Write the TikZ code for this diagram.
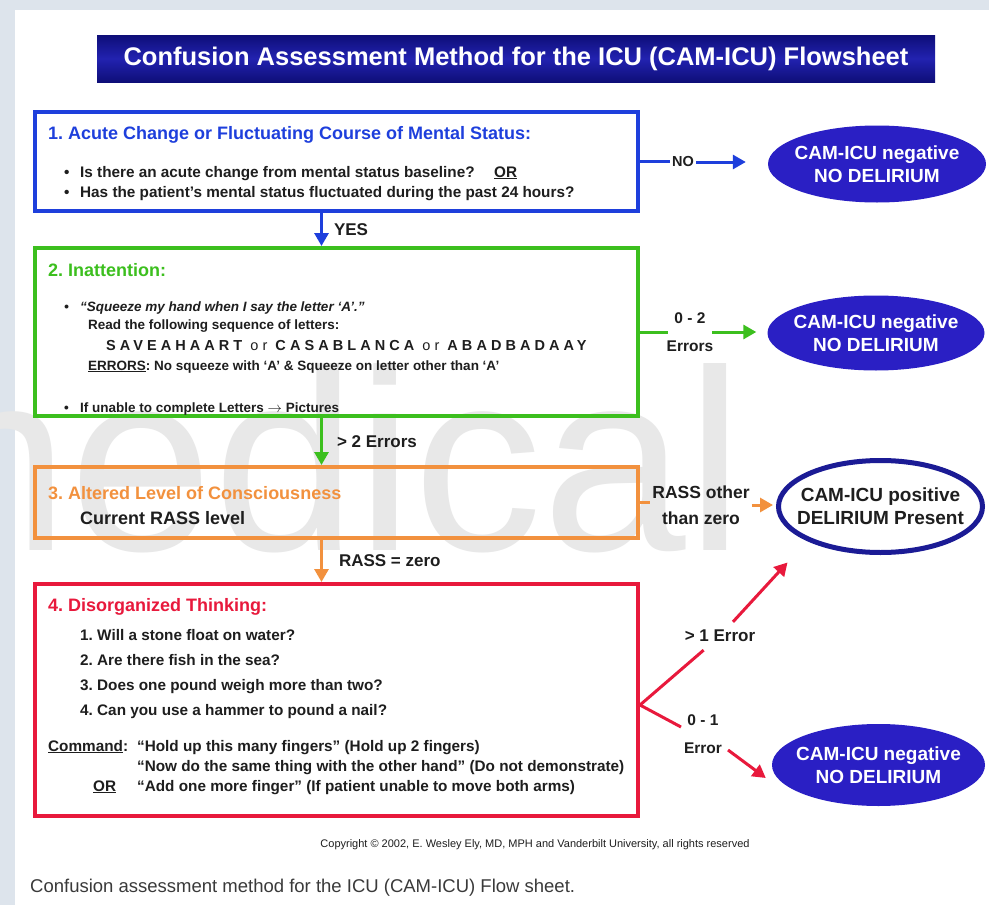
\documentclass[tikz,border=0pt]{standalone}
\usepackage{fontspec}
\setmainfont{Liberation Sans}
\usetikzlibrary{positioning,arrows.meta,shapes.geometric}
\frenchspacing

\definecolor{stripgray}{HTML}{DDE4EC}
\definecolor{barblue}{HTML}{2222B0}
\definecolor{bardark}{HTML}{0E0E78}
\definecolor{boxblue}{HTML}{1E3FDC}
\definecolor{boxgreen}{HTML}{3CBF1E}
\definecolor{boxorange}{HTML}{F2913E}
\definecolor{boxred}{HTML}{E8193C}
\definecolor{ovalblue}{HTML}{2A1FC4}
\definecolor{ovalrim}{HTML}{1B1B95}
\definecolor{wmgray}{HTML}{E8E8E8}
\definecolor{captiongray}{HTML}{3A3A3A}
\definecolor{inkblack}{HTML}{1E1E1E}

\newcommand{\bulletmark}{\makebox[16pt][l]{\textbullet}}

\begin{document}
\begin{tikzpicture}[x=1pt, y=-1pt,
	fbox/.style={draw, line width=4pt, minimum width=603pt, inner sep=0pt},
	hd/.style={anchor=base west, inner sep=0pt, font=\fontsize{18}{20}\selectfont\bfseries},
	txt/.style={anchor=base west, inner sep=0pt, text=inkblack, font=\fontsize{15.3}{18}\selectfont\bfseries},
	small/.style={txt, font=\fontsize{13.5}{15}\selectfont\bfseries},
	lbl/.style={inner sep=2pt, text=inkblack, align=center, font=\fontsize{17}{19}\selectfont\bfseries},
	oval/.style={ellipse, inner sep=0pt},
	ovaltext/.style={inner sep=0pt, align=center, font=\fontsize{19}{23}\selectfont\bfseries},
	link/.style={line width=3pt},
	arr/.style={link, -{Triangle[length=13pt, width=14pt]}}]
	\useasboundingbox (0,0) rectangle (989,905);
	\fill[white] (0,0) rectangle (989,905);
	\fill[stripgray] (0,0) rectangle (989,10);
	\fill[stripgray] (0,0) rectangle (15,905);
	\begin{scope}
		\clip (0,0) rectangle (989,905);
		\node[anchor=base east, inner sep=0pt, text=wmgray, font=\fontsize{258}{258}\selectfont] (wm) at (744,550) {medical};
	\end{scope}

	% title bar
	\node[minimum width=838pt, minimum height=47pt, top color=bardark, bottom color=bardark, middle color=barblue,
		text=white, font=\fontsize{25.5}{28}\selectfont\bfseries] (title) at (516,58.5) {Confusion Assessment Method for the ICU (CAM-ICU) Flowsheet};

	% the four boxes
	\node[fbox, draw=boxblue, minimum height=99pt] (box1) at (336.5,161.5) {};
	\node[fbox, draw=boxgreen, minimum height=168pt] (box2) at (336.5,332) {};
	\node[fbox, draw=boxorange, minimum height=71pt] (box3) at (336.5,502.5) {};
	\node[fbox, draw=boxred, minimum height=232pt] (box4) at (336.5,700) {};

	\node[hd, text=boxblue] (t1) at (48,139) {1. Acute Change or Fluctuating Course of Mental Status:};
	\node[txt] (q1a) at (64,177) {\bulletmark Is there an acute change from mental status baseline?\quad\ \underline{OR}};
	\node[txt] (q1b) at (64,197) {\bulletmark Has the patient's mental status fluctuated during the past 24 hours?};

	\node[hd, text=boxgreen] (t2) at (48,276) {2. Inattention:};
	\node[small, font=\fontsize{13.5}{15}\selectfont\bfseries\itshape] (s2a) at (64,311) {\bulletmark``Squeeze my hand when I say the letter ‘A’.''};
	\node[small] (s2b) at (88,329) {Read the following sequence of letters:};
	\node[small, font=\fontsize{14.5}{16}\selectfont\bfseries\addfontfeature{LetterSpace=28}] (s2c) at (106,350) {SAVEAHAART {\mdseries or} CASABLANCA {\mdseries or} ABADBADAAY};
	\node[small] (s2d) at (88,370) {\underline{ERRORS}: No squeeze with ‘A’ \& Squeeze on letter other than ‘A’};
	\node[small] (s2e) at (64,412) {\bulletmark If unable to complete Letters $\rightarrow$ Pictures};

	\node[hd, text=boxorange] (t3) at (48,499) {3. Altered Level of Consciousness};
	\node[txt, font=\fontsize{18}{20}\selectfont\bfseries] (t3b) at (80,524) {Current RASS level};

	\node[hd, text=boxred] (t4) at (48,611) {4. Disorganized Thinking:};
	\node[txt] (d1) at (80,640) {1. Will a stone float on water?};
	\node[txt] (d2) at (80,665) {2. Are there fish in the sea?};
	\node[txt] (d3) at (80,690) {3. Does one pound weigh more than two?};
	\node[txt] (d4) at (80,715) {4. Can you use a hammer to pound a nail?};
	\node[txt] (cmd) at (48,751) {\underline{Command}:};
	\node[txt] (cmd1) at (137,751) {``Hold up this many fingers'' (Hold up 2 fingers)};
	\node[txt] (cmd2) at (137,771) {``Now do the same thing with the other hand'' (Do not demonstrate)};
	\node[txt] (cmdor) at (93,791) {\underline{OR}};
	\node[txt] (cmd3) at (137,791) {``Add one more finger'' (If patient unable to move both arms)};

	% outcome ovals
	\node[oval, fill=ovalblue, minimum width=218pt, minimum height=77pt] (neg1) at (877,164) {};
	\node[ovaltext, text=white] (neg1txt) at (neg1) {CAM-ICU negative\\NO DELIRIUM};
	\node[oval, fill=ovalblue, minimum width=217pt, minimum height=75pt] (neg2) at (876,333) {};
	\node[ovaltext, text=white] (neg2txt) at (neg2) {CAM-ICU negative\\NO DELIRIUM};
	\node[oval, draw=ovalrim, line width=5pt, fill=white, minimum width=204pt, minimum height=92pt] (pos) at (880.5,506.5) {};
	\node[ovaltext, text=inkblack] (postxt) at (pos) {CAM-ICU positive\\DELIRIUM Present};
	\node[oval, fill=ovalblue, minimum width=213pt, minimum height=82pt] (neg4) at (878.5,765) {};
	\node[ovaltext, text=white] (neg4txt) at (neg4) {CAM-ICU negative\\NO DELIRIUM};

	% downward arrows
	\draw[arr, boxblue] ([xshift=-15pt]box1.south) -- ([xshift=-15pt]box2.north) node[lbl, midway, right=9pt] (yes) {YES};
	\draw[arr, boxgreen] ([xshift=-15pt]box2.south) -- ([xshift=-15pt]box3.north) node[lbl, midway, right=12pt] (gt2) {> 2 Errors};
	\draw[arr, boxorange] ([xshift=-15pt]box3.south) -- ([xshift=-15pt]box4.north) node[lbl, midway, right=14pt] (rz) {RASS = zero};

	% sideways arrows
	\node[lbl, font=\fontsize{14.5}{16}\selectfont\bfseries] (no) at (683,162) {NO};
	\draw[link, boxblue] (box1.east) -- (box1.east -| no.west);
	\draw[arr, boxblue] (no.east) -- ([xshift=-22pt]no.east -| neg1.west);

	\node[lbl, font=\fontsize{15.5}{28}\selectfont\bfseries] (err02) at (690,332) {0 - 2\\Errors};
	\draw[link, boxgreen] (box2.east) -- ([xshift=-22pt]box2.east -| err02.center);
	\draw[arr, boxgreen] ([xshift=22pt]err02.center) -- ([xshift=-11pt]err02.center -| neg2.west);

	\node[lbl, font=\fontsize{17.5}{26}\selectfont\bfseries] (rass) at (701,505) {RASS other\\than zero};
	\draw[link, boxorange] (box3.east) -- (box3.east -| rass.west);
	\draw[arr, boxorange, shorten >=3pt] (rass.east) -- (rass.east -| pos.west);

	\coordinate (fork) at ([yshift=-5pt]box4.east);
	\node[lbl, inner sep=8pt] (gt1) at (720,636) {> 1 Error};
	\draw[link, boxred] (fork) -- (gt1);
	\draw[arr, boxred] (gt1) -- ([xshift=-93pt, yshift=-56pt]pos.center);
	\node[lbl, font=\fontsize{15.5}{28}\selectfont\bfseries] (err01) at (703,734) {0 - 1\\Error};
	\draw[link, boxred] (fork) -- ([xshift=-22pt, yshift=7pt]err01.center);
	\draw[arr, boxred] ([xshift=25pt, yshift=-16pt]err01.center) -- ([xshift=-6pt, yshift=-13pt]neg4.west);

	% footer
	\node[inner sep=0pt, text=inkblack, font=\fontsize{11}{13}\selectfont] (copy) at (535,845) {Copyright © 2002, E. Wesley Ely, MD, MPH and Vanderbilt University, all rights reserved};
	\node[anchor=west, inner sep=0pt, text=captiongray, font=\fontsize{18.5}{21}\selectfont] (caption) at (30,888) {Confusion assessment method for the ICU (CAM-ICU) Flow sheet.};
\end{tikzpicture}
\end{document}
